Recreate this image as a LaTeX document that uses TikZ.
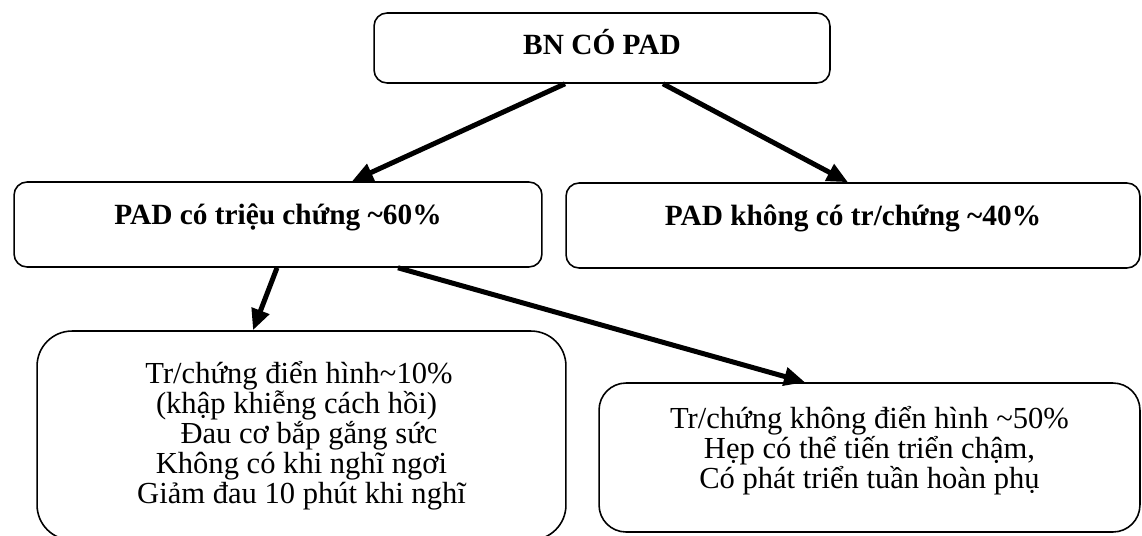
\documentclass[tikz,border=0pt]{standalone}
\usepackage{fontspec}
\setmainfont{Liberation Serif}
\usetikzlibrary{arrows.meta, positioning}

\tikzset{
  boite/.style={draw, line width=0.9pt, inner sep=0pt, align=center},
  titre/.style={boite, rounded corners=0.26cm, minimum height=1.7cm,
    font=\bfseries\fontsize{16.7}{20}\selectfont, text height=0.3cm, text depth=0.3cm},
  detail/.style={boite, font=\fontsize{17.4}{17}\selectfont},
  fleche/.style={line width=0.1cm, -{Triangle[length=0.42cm, width=0.36cm]}},
}

\begin{document}
\begin{tikzpicture}[x=0.02cm, y=-0.02cm]
  \useasboundingbox (0,0) rectangle (1142,535);
  \clip (0,0) rectangle (1142,535);
  % --- Boites ---
  \node[titre, minimum width=9.12cm, minimum height=1.4cm, text height=0.54cm] (bn) at (602,48) {BN CÓ PAD};
  \node[titre, minimum width=10.56cm] (sym) at (278,224.5) {PAD có triệu chứng \textasciitilde60\%};
  \node[titre, minimum width=11.48cm] (asym) at (853,225.5) {PAD không có tr/chứng \textasciitilde40\%};
  \node[detail, rounded corners=0.7cm, minimum width=10.58cm, minimum height=4.18cm] (typ) at (301.5,435.5)
    {Tr/chứng điển hình\textasciitilde10\%\kern0.1cm\\
     (khập khiễng cách hồi)\kern0.2cm\\
     \kern0.3cm Đau cơ bắp gắng sức\\
     Không có khi nghĩ ngơi\\
     Giảm đau 10 phút khi nghĩ};
  \node[detail, rounded corners=0.54cm, minimum width=10.82cm, minimum height=2.98cm] (atyp) at (869.5,457.5)
    {Tr/chứng không điển hình \textasciitilde50\%\\
     Hẹp có thể tiến triển chậm,\\
     Có phát triển tuần hoàn phụ\rule[-0.4cm]{0pt}{0pt}};
  % --- Fleches ---
  \draw[fleche] ([xshift=-0.74cm]bn.south) -- ([xshift=1.48cm]sym.north);
  \draw[fleche] ([xshift=1.22cm]bn.south) -- ([xshift=-0.1cm]asym.north);
  \draw[fleche] ([xshift=-0.02cm]sym.south) -- ([xshift=-0.97cm]typ.north);
  \draw[fleche] ([xshift=2.4cm]sym.south) -- ([xshift=-1.29cm]atyp.north);
\end{tikzpicture}
\end{document}
